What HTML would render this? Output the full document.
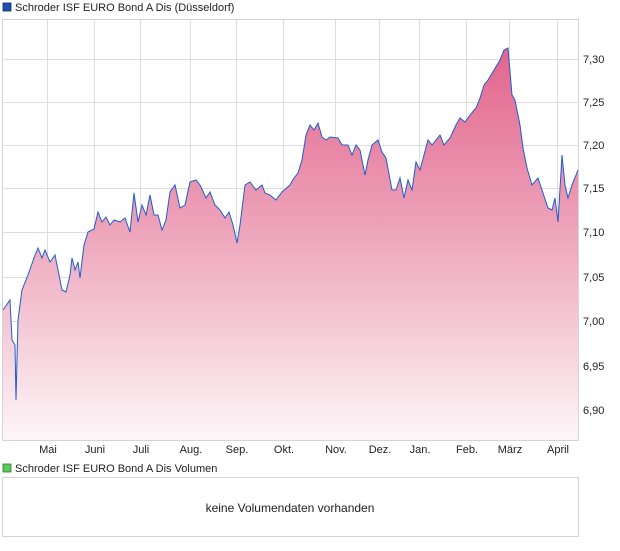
<!DOCTYPE html>
<html><head><meta charset="utf-8"><style>
body{margin:0;background:#fff;font-family:"Liberation Sans",sans-serif;}
svg text{font-family:"Liberation Sans",sans-serif;font-size:11px;fill:#222;}
</style></head><body>
<svg width="620" height="546" xmlns="http://www.w3.org/2000/svg">
<defs>
<linearGradient id="g" x1="0" y1="48" x2="0" y2="441" gradientUnits="userSpaceOnUse">
<stop offset="0" stop-color="#e2648d"/>
<stop offset="0.45" stop-color="#eda2b9"/>
<stop offset="1" stop-color="#fdf6f8"/>
</linearGradient>
</defs>
<rect x="3" y="3" width="8" height="8" fill="#1f4fb0" stroke="#0a2a70" stroke-width="0.8"/>
<text x="15" y="11">Schroder ISF EURO Bond A Dis (Düsseldorf)</text>
<rect x="2.5" y="19.5" width="576" height="421" fill="#fff" stroke="#d4d4d4"/>
<g stroke="#dddddd" stroke-width="1">
<line x1="47.5" y1="20" x2="47.5" y2="440"/><line x1="94.5" y1="20" x2="94.5" y2="440"/><line x1="140.5" y1="20" x2="140.5" y2="440"/><line x1="190.5" y1="20" x2="190.5" y2="440"/><line x1="236.5" y1="20" x2="236.5" y2="440"/><line x1="283.5" y1="20" x2="283.5" y2="440"/><line x1="335.5" y1="20" x2="335.5" y2="440"/><line x1="379.5" y1="20" x2="379.5" y2="440"/><line x1="419.5" y1="20" x2="419.5" y2="440"/><line x1="466.5" y1="20" x2="466.5" y2="440"/><line x1="509.5" y1="20" x2="509.5" y2="440"/><line x1="557.5" y1="20" x2="557.5" y2="440"/>
<line x1="3" y1="59.5" x2="578" y2="59.5"/><line x1="3" y1="102.5" x2="578" y2="102.5"/><line x1="3" y1="145.5" x2="578" y2="145.5"/><line x1="3" y1="188.5" x2="578" y2="188.5"/><line x1="3" y1="232.5" x2="578" y2="232.5"/><line x1="3" y1="277.5" x2="578" y2="277.5"/><line x1="3" y1="321.5" x2="578" y2="321.5"/><line x1="3" y1="366.5" x2="578" y2="366.5"/><line x1="3" y1="410.5" x2="578" y2="410.5"/>
</g>
<path d="M3,310 L10,300 L12,340 L15,345 L16,400 L18,320 L22,290 L28,275 L35,255 L38,248 L42,258 L45,250 L50,262 L55,255 L58,270 L62,290 L66,292 L70,275 L72,258 L75,270 L78,262 L80,278 L84,245 L88,232 L94,229 L98,212 L102,222 L106,217 L110,225 L114,220 L120,222 L125,218 L130,232 L134,193 L138,222 L142,205 L146,215 L150,195 L154,215 L158,215 L162,230 L166,220 L170,192 L175,185 L180,208 L185,205 L190,182 L196,180 L200,185 L206,198 L210,192 L215,205 L220,210 L225,218 L229,212 L233,225 L237,243 L240,225 L245,185 L250,182 L256,190 L262,185 L265,193 L270,195 L276,200 L282,192 L290,185 L294,178 L298,173 L302,160 L306,135 L310,125 L314,130 L318,123 L322,137 L326,140 L330,137 L338,138 L342,145 L348,145 L352,155 L356,145 L360,150 L365,175 L368,160 L372,145 L378,140 L382,152 L386,158 L392,190 L396,190 L400,178 L404,198 L408,180 L412,190 L416,162 L420,170 L424,155 L428,140 L432,145 L436,140 L440,135 L444,145 L450,138 L456,125 L460,118 L465,122 L470,115 L476,108 L480,98 L484,85 L488,80 L494,70 L500,60 L504,50 L508,48 L512,95 L515,100 L520,125 L523,148 L527,168 L532,185 L538,178 L542,190 L548,208 L552,210 L555,198 L558,222 L562,155 L565,185 L568,198 L572,185 L578,170 L578,440 L3,440 Z" fill="url(#g)"/>
<path d="M3,310 L10,300 L12,340 L15,345 L16,400 L18,320 L22,290 L28,275 L35,255 L38,248 L42,258 L45,250 L50,262 L55,255 L58,270 L62,290 L66,292 L70,275 L72,258 L75,270 L78,262 L80,278 L84,245 L88,232 L94,229 L98,212 L102,222 L106,217 L110,225 L114,220 L120,222 L125,218 L130,232 L134,193 L138,222 L142,205 L146,215 L150,195 L154,215 L158,215 L162,230 L166,220 L170,192 L175,185 L180,208 L185,205 L190,182 L196,180 L200,185 L206,198 L210,192 L215,205 L220,210 L225,218 L229,212 L233,225 L237,243 L240,225 L245,185 L250,182 L256,190 L262,185 L265,193 L270,195 L276,200 L282,192 L290,185 L294,178 L298,173 L302,160 L306,135 L310,125 L314,130 L318,123 L322,137 L326,140 L330,137 L338,138 L342,145 L348,145 L352,155 L356,145 L360,150 L365,175 L368,160 L372,145 L378,140 L382,152 L386,158 L392,190 L396,190 L400,178 L404,198 L408,180 L412,190 L416,162 L420,170 L424,155 L428,140 L432,145 L436,140 L440,135 L444,145 L450,138 L456,125 L460,118 L465,122 L470,115 L476,108 L480,98 L484,85 L488,80 L494,70 L500,60 L504,50 L508,48 L512,95 L515,100 L520,125 L523,148 L527,168 L532,185 L538,178 L542,190 L548,208 L552,210 L555,198 L558,222 L562,155 L565,185 L568,198 L572,185 L578,170" fill="none" stroke="#1f5ccc" stroke-width="1"/>
<g>
<text x="583" y="63">7,30</text><text x="583" y="106">7,25</text><text x="583" y="149">7,20</text><text x="583" y="192">7,15</text><text x="583" y="236">7,10</text><text x="583" y="281">7,05</text><text x="583" y="325">7,00</text><text x="583" y="370">6,95</text><text x="583" y="414">6,90</text>
</g>
<g text-anchor="middle">
<text x="48" y="453">Mai</text><text x="95" y="453">Juni</text><text x="141" y="453">Juli</text><text x="191" y="453">Aug.</text><text x="237" y="453">Sep.</text><text x="284" y="453">Okt.</text><text x="336" y="453">Nov.</text><text x="380" y="453">Dez.</text><text x="420" y="453">Jan.</text><text x="467" y="453">Feb.</text><text x="510" y="453">März</text><text x="558" y="453">April</text>
</g>
<rect x="3" y="464" width="8" height="8" fill="#5cc85c" stroke="#2a7a2a" stroke-width="0.8"/>
<text x="15" y="472">Schroder ISF EURO Bond A Dis Volumen</text>
<rect x="2.5" y="477.5" width="576" height="59" fill="#fff" stroke="#d4d4d4"/>
<text x="290" y="512" text-anchor="middle" style="font-size:12px">keine Volumendaten vorhanden</text>
</svg>
</body></html>
